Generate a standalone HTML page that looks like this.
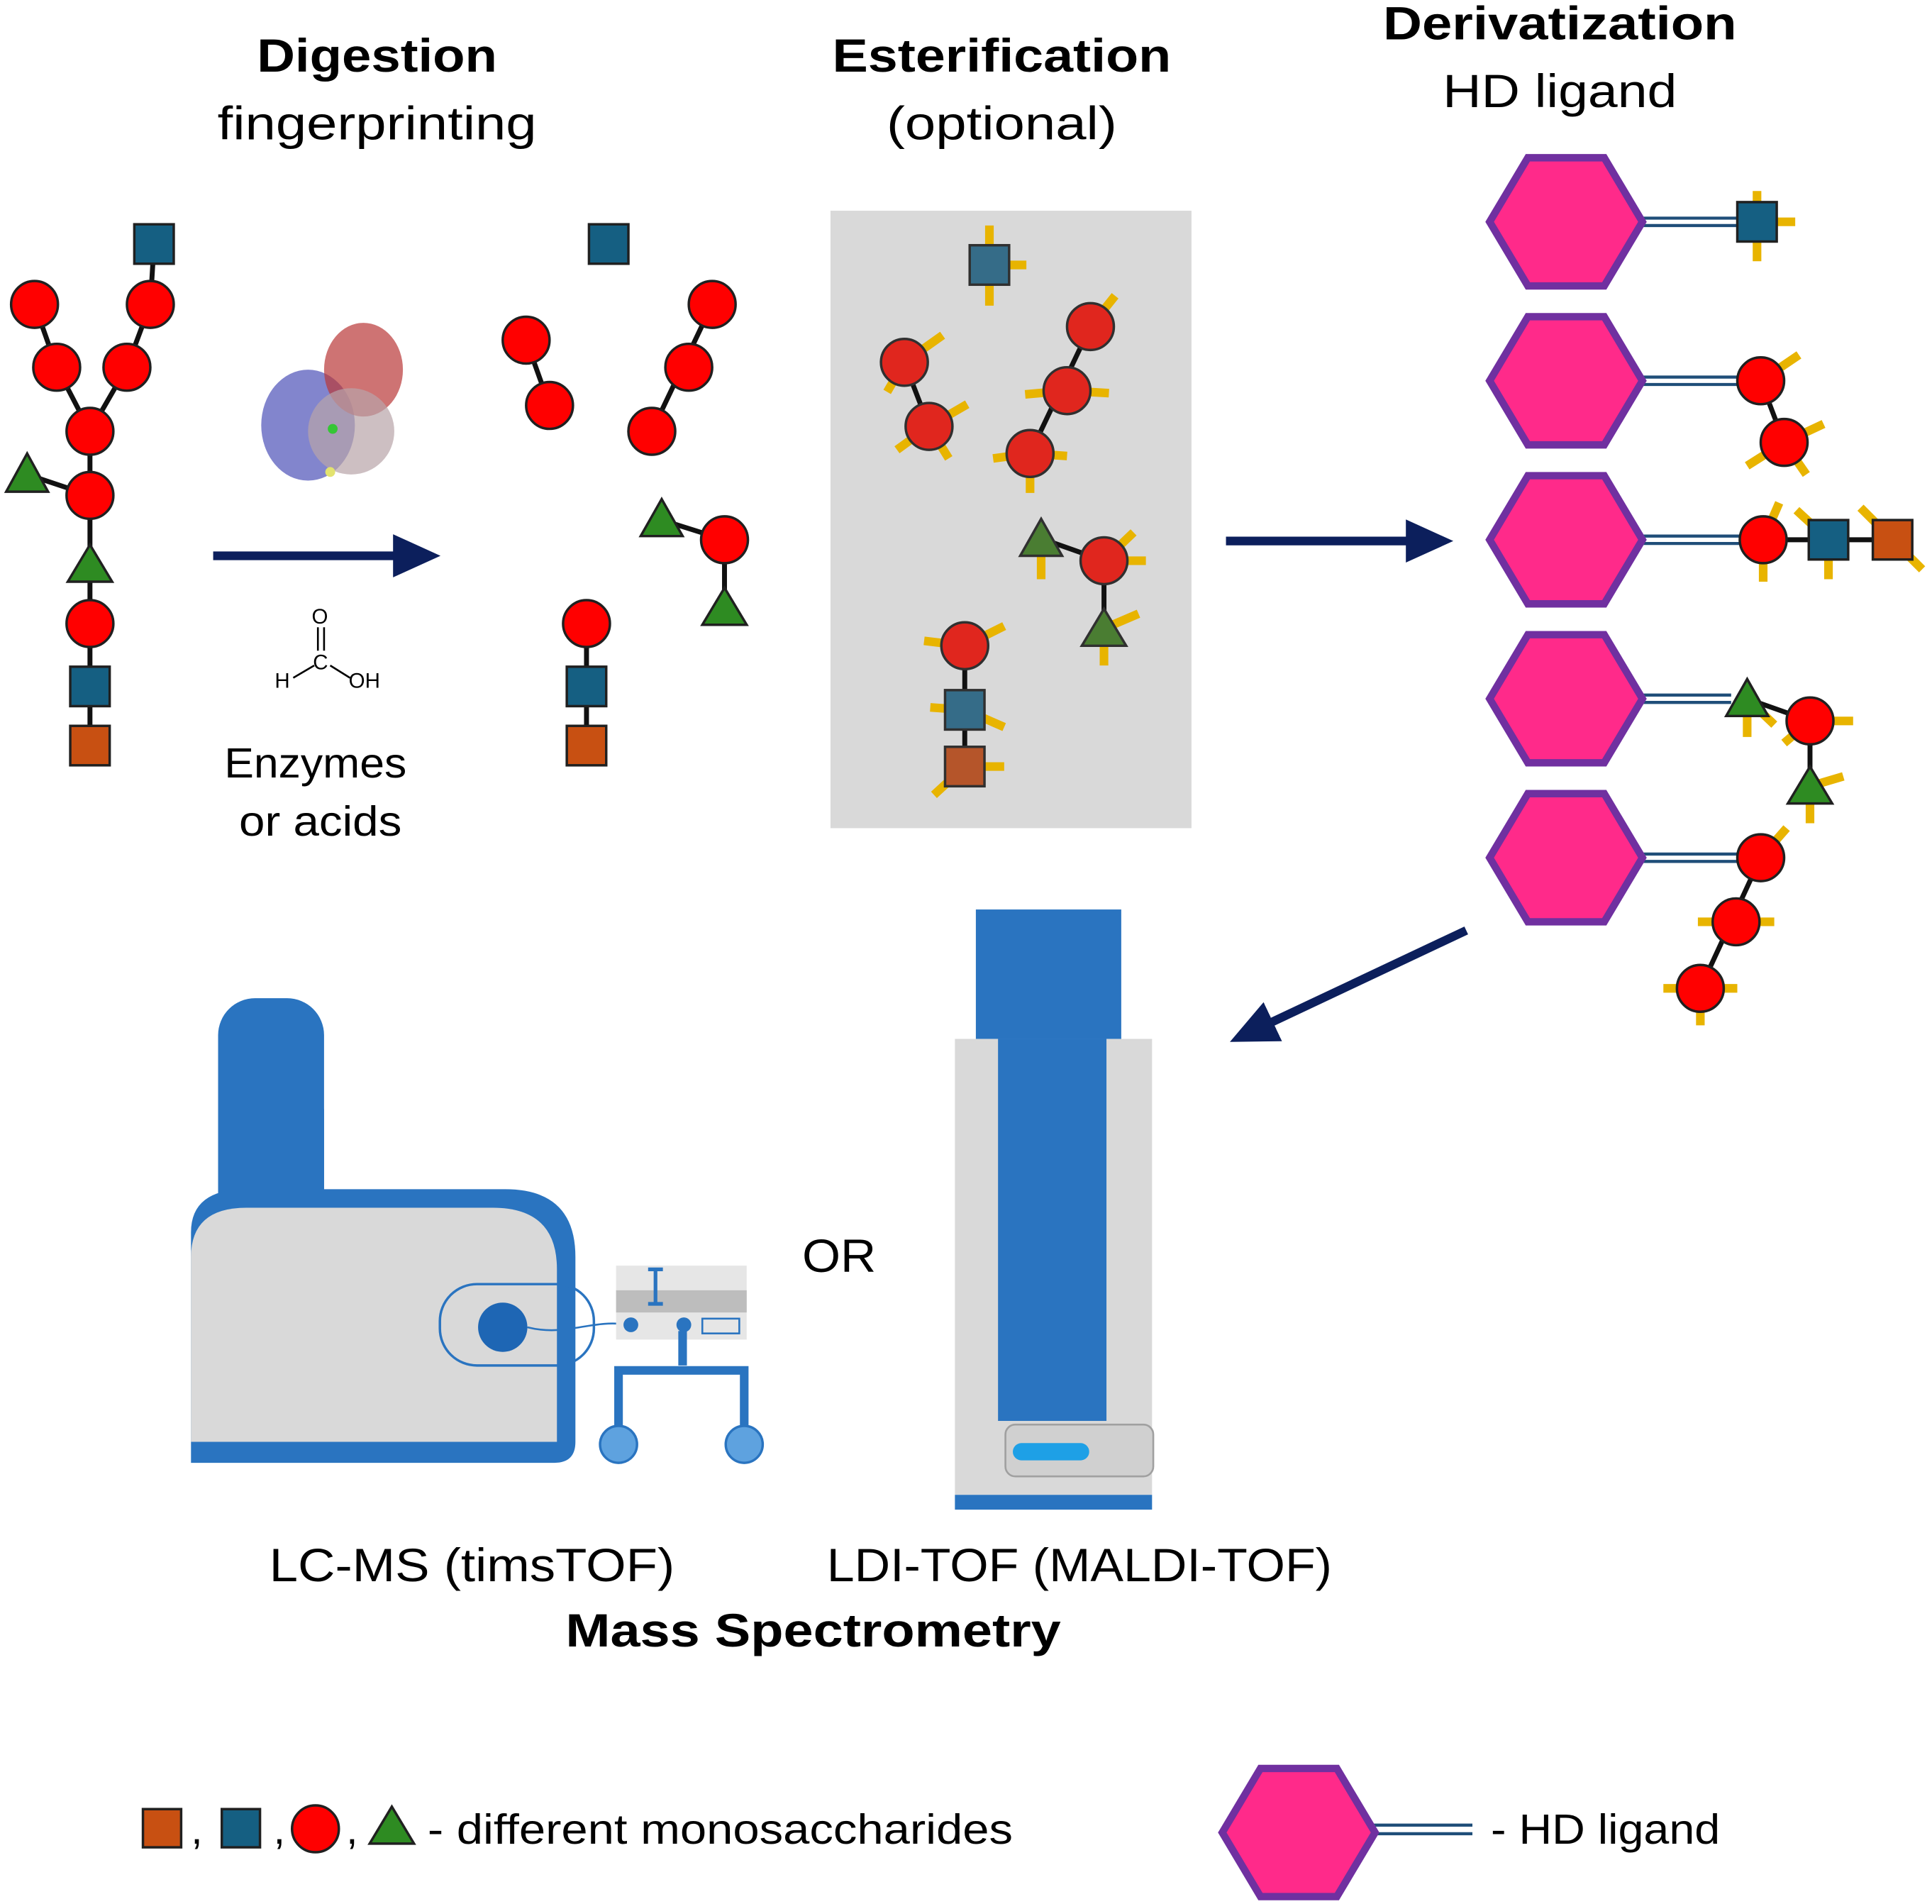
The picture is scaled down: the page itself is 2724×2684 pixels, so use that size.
<!DOCTYPE html>
<html><head><meta charset="utf-8"><style>html,body{margin:0;padding:0;background:#fff}svg{display:block}</style></head>
<body>
<svg width="2724" height="2684" viewBox="0 0 1568 1545" xmlns="http://www.w3.org/2000/svg" font-family="Liberation Sans, sans-serif">
<defs>
<marker id="ah" markerWidth="6" markerHeight="6" refX="3" refY="3" orient="auto" markerUnits="strokeWidth"><path d="M0,0.5 L5.5,3 L0,5.5 z" fill="#0c1f5c"/></marker>
<g id="hex"><polygon points="-62,0 -31,-52 31,-52 62,0 31,52 -31,52" fill="#ff2a8a" stroke="#7030a0" stroke-width="6"/></g>
</defs>
<style>
.c{fill:#ff0000;stroke:#202020;stroke-width:2}
.cd{fill:#e0261e;stroke:#303030;stroke-width:2}
.s{fill:#155f82;stroke:#202020;stroke-width:2}
.sd{fill:#356c88;stroke:#303030;stroke-width:2}
.o{fill:#c85012;stroke:#202020;stroke-width:2}
.od{fill:#b5552a;stroke:#303030;stroke-width:2}
.t{fill:#2e8b22;stroke:#202020;stroke-width:2}
.td{fill:#4a7d32;stroke:#303030;stroke-width:2}
.l{stroke:#111;stroke-width:4;fill:none}
.y{stroke:#e8b400;stroke-width:7;fill:none}
.h{font-size:38px;text-anchor:middle}
.b{font-weight:bold}
</style>

<!-- Titles -->
<text x="306" y="58" class="h b" textLength="195" lengthAdjust="spacingAndGlyphs">Digestion</text>
<text x="306" y="113" class="h" textLength="259" lengthAdjust="spacingAndGlyphs">fingerprinting</text>
<text x="813" y="58" class="h b" textLength="275" lengthAdjust="spacingAndGlyphs">Esterification</text>
<text x="813" y="113" class="h" textLength="187" lengthAdjust="spacingAndGlyphs">(optional)</text>
<text x="1266" y="32" class="h b" textLength="287" lengthAdjust="spacingAndGlyphs">Derivatization</text>
<text x="1266" y="87" class="h" textLength="190" lengthAdjust="spacingAndGlyphs">HD ligand</text>

<!-- Left glycan -->
<path class="l" d="M28,247 L46,298 L73,350 L103,298 L122,247 L125,198 M73,350 L73,605 M22,385 L73,402"/>
<rect class="s" x="109" y="182" width="32" height="32"/>
<circle class="c" cx="28" cy="247" r="19"/><circle class="c" cx="46" cy="298" r="19"/>
<circle class="c" cx="103" cy="298" r="19"/><circle class="c" cx="122" cy="247" r="19"/>
<circle class="c" cx="73" cy="350" r="19"/><circle class="c" cx="73" cy="402" r="19"/>
<polygon class="t" points="22,368 5,399 39,399"/>
<polygon class="t" points="73,442 55,472 91,472"/>
<circle class="c" cx="73" cy="506" r="19"/>
<rect class="s" x="57" y="541" width="32" height="32"/>
<rect class="o" x="57" y="589" width="32" height="32"/>

<!-- protein blob -->
<g opacity="0.9">
<ellipse cx="250" cy="345" rx="38" ry="45" fill="#3a3fb0" opacity="0.7"/>
<ellipse cx="295" cy="300" rx="32" ry="38" fill="#b22222" opacity="0.7"/>
<ellipse cx="285" cy="350" rx="35" ry="35" fill="#b09aa0" opacity="0.7"/>
<circle cx="270" cy="348" r="4" fill="#20c020"/><circle cx="268" cy="383" r="4" fill="#e0e060"/>
</g>
<line x1="173" y1="451" x2="340" y2="451" stroke="#0c1f5c" stroke-width="7" marker-end="url(#ah)"/>

<!-- formic acid -->
<g font-size="17" fill="#000" stroke="#000" stroke-width="1.5">
<text x="253" y="506" stroke="none">O</text>
<line x1="258" y1="509" x2="258" y2="528"/><line x1="263" y1="509" x2="263" y2="528"/>
<text x="254" y="543" stroke="none">C</text>
<line x1="255" y1="540" x2="238" y2="550"/><line x1="268" y1="540" x2="284" y2="550"/>
<text x="223" y="558" stroke="none">H</text><text x="283" y="558" stroke="none">OH</text>
</g>
<text x="256" y="631" class="h" style="font-size:34px" textLength="148" lengthAdjust="spacingAndGlyphs">Enzymes</text>
<text x="260" y="678" class="h" style="font-size:34px" textLength="132" lengthAdjust="spacingAndGlyphs">or acids</text>

<!-- digested fragments -->
<rect class="s" x="478" y="182" width="32" height="32"/>
<path class="l" d="M427,276 L446,329 M578,247 L529,350 M537,422 L588,438 L588,492 M476,506 L476,605"/>
<circle class="c" cx="427" cy="276" r="19"/><circle class="c" cx="446" cy="329" r="19"/>
<circle class="c" cx="578" cy="247" r="19"/><circle class="c" cx="559" cy="298" r="19"/><circle class="c" cx="529" cy="350" r="19"/>
<polygon class="t" points="537,405 520,435 554,435"/>
<circle class="c" cx="588" cy="438" r="19"/>
<polygon class="t" points="588,477 570,507 606,507"/>
<circle class="c" cx="476" cy="506" r="19"/>
<rect class="s" x="460" y="541" width="32" height="32"/>
<rect class="o" x="460" y="589" width="32" height="32"/>

<!-- esterification box -->
<rect x="674" y="171" width="293" height="501" fill="#d9d9d9"/>
<path class="y" d="M803,183 L803,248 M803,215 L833,215 M734,294 L765,272 M734,294 L720,318 M754,346 L785,328 M754,346 L728,365 M754,346 L770,372 M885,265 L905,240 M866,317 L900,319 M866,317 L832,320 M836,368 L866,370 M836,368 L806,372 M836,368 L836,400 M845,437 L845,470 M896,455 L930,455 M896,455 L920,432 M896,510 L924,498 M896,510 L896,540 M783,524 L815,508 M783,524 L750,520 M783,576 L815,590 M783,576 L755,574 M783,622 L815,622 M783,622 L758,645"/>
<path class="l" d="M734,294 L754,346 M885,265 L836,368 M845,437 L896,455 L896,510 M783,524 L783,622" stroke="#222"/>
<rect class="sd" x="787" y="199" width="32" height="32"/>
<circle class="cd" cx="734" cy="294" r="19"/><circle class="cd" cx="754" cy="346" r="19"/>
<circle class="cd" cx="885" cy="265" r="19"/><circle class="cd" cx="866" cy="317" r="19"/><circle class="cd" cx="836" cy="368" r="19"/>
<polygon class="td" points="845,421 828,451 862,451"/>
<circle class="cd" cx="896" cy="455" r="19"/>
<polygon class="td" points="896,494 878,524 914,524"/>
<circle class="cd" cx="783" cy="524" r="19"/>
<rect class="sd" x="767" y="560" width="32" height="32"/>
<rect class="od" x="767" y="606" width="32" height="32"/>

<line x1="995" y1="439" x2="1162" y2="439" stroke="#0c1f5c" stroke-width="7" marker-end="url(#ah)"/>

<!-- derivatization -->
<g stroke="#1f4e79" stroke-width="2.5">
<path d="M1332,177 L1410,177 M1332,183 L1410,183"/>
<path d="M1332,306 L1412,306 M1332,312 L1412,312"/>
<path d="M1332,435 L1414,435 M1332,441 L1414,441"/>
<path d="M1332,564 L1405,564 M1332,570 L1405,570"/>
<path d="M1332,693 L1412,693 M1332,699 L1412,699"/>
</g>
<use href="#hex" x="1271" y="180"/><use href="#hex" x="1271" y="309"/><use href="#hex" x="1271" y="438"/><use href="#hex" x="1271" y="567"/><use href="#hex" x="1271" y="696"/>
<path class="y" d="M1426,155 L1426,212 M1426,180 L1457,180 M1429,309 L1460,288 M1448,359 L1480,344 M1448,359 L1418,378 M1448,359 L1466,385 M1431,438 L1444,408 M1431,438 L1431,472 M1484,438 L1484,470 M1484,438 L1458,414 M1536,438 L1510,412 M1536,438 L1560,462 M1418,567 L1418,598 M1418,567 L1440,588 M1469,585 L1504,585 M1469,585 L1448,603 M1469,638 L1496,630 M1469,638 L1469,668 M1429,696 L1450,672 M1409,748 L1440,748 M1409,748 L1378,748 M1380,802 L1410,802 M1380,802 L1350,802 M1380,802 L1380,832"/>
<path class="l" d="M1429,309 L1448,359 M1431,438 L1536,438 M1418,567 L1469,585 L1469,638 M1429,696 L1380,802"/>
<rect class="s" x="1410" y="164" width="32" height="32"/>
<circle class="c" cx="1429" cy="309" r="19"/><circle class="c" cx="1448" cy="359" r="19"/>
<circle class="c" cx="1431" cy="438" r="19"/>
<rect class="s" x="1468" y="422" width="32" height="32"/>
<rect class="o" x="1520" y="422" width="32" height="32"/>
<polygon class="t" points="1418,551 1401,581 1435,581"/>
<circle class="c" cx="1469" cy="585" r="19"/>
<polygon class="t" points="1469,622 1451,652 1487,652"/>
<circle class="c" cx="1429" cy="696" r="19"/><circle class="c" cx="1409" cy="748" r="19"/><circle class="c" cx="1380" cy="802" r="19"/>

<line x1="1190" y1="755" x2="1014" y2="838" stroke="#0c1f5c" stroke-width="7" marker-end="url(#ah)"/>

<!-- LC-MS instrument -->
<rect x="177" y="810" width="86" height="200" rx="30" fill="#2a74c0"/>
<rect x="177" y="900" width="86" height="110" fill="#2a74c0"/>
<path d="M155,1000 Q155,965 200,965 L410,965 Q467,965 467,1020 L467,1170 Q467,1187 450,1187 L155,1187 Z" fill="#2a74c0"/>
<path d="M155,1020 Q155,980 200,980 L400,980 Q452,980 452,1030 L452,1170 L155,1170 Z" fill="#d9d9d9"/>
<rect x="357" y="1042" width="125" height="66" rx="30" fill="none" stroke="#2a74c0" stroke-width="2"/>
<circle cx="408" cy="1077" r="20" fill="#1e66b4"/>
<path d="M428,1077 C460,1085 480,1070 510,1075 C525,1070 540,1085 555,1075" fill="none" stroke="#2a74c0" stroke-width="1.5"/>
<rect x="500" y="1027" width="106" height="60" fill="#e6e6e6"/>
<rect x="500" y="1047" width="106" height="18" fill="#bdbdbd"/>
<path d="M532,1030 L532,1058 M526,1030 L538,1030 M526,1058 L538,1058" stroke="#2a74c0" stroke-width="3"/>
<rect x="570" y="1070" width="30" height="12" fill="none" stroke="#2a74c0" stroke-width="1.5"/>
<circle cx="512" cy="1075" r="6" fill="#2a74c0"/><circle cx="555" cy="1075" r="6" fill="#2a74c0"/>
<path d="M554,1080 L554,1108 M502,1165 L502,1112 L604,1112 L604,1165" stroke="#2a74c0" stroke-width="7" fill="none"/>
<circle cx="502" cy="1172" r="15" fill="#5ea2df" stroke="#2a74c0" stroke-width="2"/>
<circle cx="604" cy="1172" r="15" fill="#5ea2df" stroke="#2a74c0" stroke-width="2"/>

<text x="681" y="1032" class="h" textLength="60" lengthAdjust="spacingAndGlyphs">OR</text>

<!-- MALDI instrument -->
<rect x="775" y="843" width="160" height="370" fill="#d9d9d9"/>
<rect x="792" y="738" width="118" height="105" fill="#2a74c0"/>
<rect x="810" y="843" width="88" height="310" fill="#2a74c0"/>
<rect x="775" y="1213" width="160" height="12" fill="#2a74c0"/>
<rect x="816" y="1156" width="120" height="42" rx="8" fill="#d0d0d0" stroke="#a0a0a0" stroke-width="1.5"/>
<rect x="822" y="1171" width="62" height="14" rx="7" fill="#1ea0e6"/>

<text x="383" y="1283" class="h" textLength="329" lengthAdjust="spacingAndGlyphs">LC-MS (timsTOF)</text>
<text x="876" y="1283" class="h" textLength="410" lengthAdjust="spacingAndGlyphs">LDI-TOF (MALDI-TOF)</text>
<text x="660" y="1336" class="h b" textLength="402" lengthAdjust="spacingAndGlyphs">Mass Spectrometry</text>

<!-- legend -->
<rect class="o" x="116" y="1468" width="31" height="31"/>
<text x="155" y="1496" font-size="34">,</text>
<rect class="s" x="180" y="1468" width="31" height="31"/>
<text x="222" y="1496" font-size="34">,</text>
<circle class="c" cx="256" cy="1484" r="19"/>
<text x="281" y="1496" font-size="34">,</text>
<polygon class="t" points="318,1466 300,1496 336,1496"/>
<text x="347" y="1496" font-size="34" textLength="475" lengthAdjust="spacingAndGlyphs">- different monosaccharides</text>
<g stroke="#1f4e79" stroke-width="2.5"><path d="M1115,1481 L1195,1481 M1115,1488 L1195,1488"/></g>
<use href="#hex" x="1054" y="1487"/>
<text x="1210" y="1496" font-size="34" textLength="186" lengthAdjust="spacingAndGlyphs">- HD ligand</text>
</svg>
</body></html>
